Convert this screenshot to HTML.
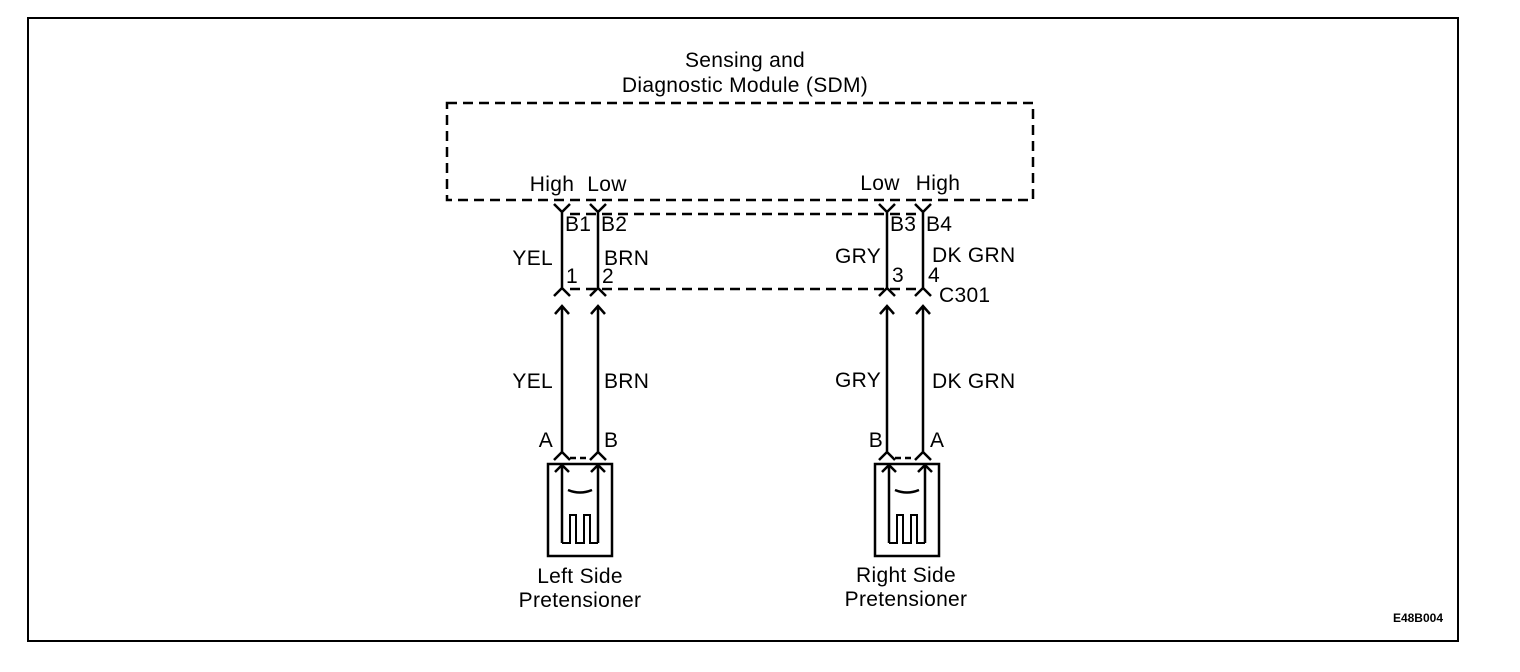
<!DOCTYPE html>
<html><head><style>
html,body{margin:0;padding:0;background:#fff;width:1520px;height:672px;overflow:hidden}
svg text{font-family:"Liberation Sans",Arial,sans-serif;font-size:21px;letter-spacing:0.3px;fill:#000}
</style></head><body>
<svg width="1520" height="672" viewBox="0 0 1520 672" xmlns="http://www.w3.org/2000/svg">
<rect x="28" y="18" width="1430" height="623" fill="none" stroke="#000" stroke-width="2"/>
<text x="745" y="67" text-anchor="middle">Sensing and</text>
<text x="745" y="92" text-anchor="middle">Diagnostic Module (SDM)</text>
<rect x="447" y="103" width="586" height="97" fill="none" stroke="#000" stroke-width="2.5" stroke-dasharray="10,6"/>
<text x="552" y="191" text-anchor="middle">High</text>
<text x="607" y="191" text-anchor="middle">Low</text>
<text x="880" y="190" text-anchor="middle">Low</text>
<text x="938" y="190" text-anchor="middle">High</text>
<g stroke="#000" stroke-width="2.5" fill="none">
<line x1="570" y1="214" x2="920" y2="214" stroke-dasharray="10,6"/>
<line x1="570" y1="289" x2="920" y2="289" stroke-dasharray="10,6"/>
<g id="w">
<path d="M554 204 L562 212 L570 204 M562 212 V288 M554 296 L562 288 L570 296 M555 314 L562 306 L569 314 M562 306 V452 M554 460 L562 452 L570 460"/>
</g>
<use href="#w" x="36"/>
<use href="#w" x="325"/>
<use href="#w" x="361"/>
<line x1="570" y1="458" x2="590" y2="458" stroke-dasharray="6,4"/>
<line x1="895" y1="458" x2="915" y2="458" stroke-dasharray="6,4"/>
<g id="p">
<rect x="548" y="464" width="64" height="92"/>
<path d="M555 472 L562 465 L569 472 M562 465 V543 M591 472 L598 465 L605 472 M598 465 V543"/>
<path d="M568 490 Q580 495 592 490"/>
<path d="M562 543 H570 V515 H576 V543 H584 V515 H590 V543 H598" stroke-width="2"/>
</g>
<use href="#p" x="327"/>
</g>
<text x="565" y="231">B1</text><text x="601" y="231">B2</text>
<text x="890" y="231">B3</text><text x="926" y="231">B4</text>
<text x="553" y="265" text-anchor="end">YEL</text><text x="604" y="265">BRN</text>
<text x="881" y="263" text-anchor="end">GRY</text><text x="932" y="262">DK GRN</text>
<text x="566" y="283">1</text><text x="602" y="283">2</text>
<text x="892" y="282">3</text><text x="928" y="282">4</text>
<text x="939" y="302">C301</text>
<text x="553" y="388" text-anchor="end">YEL</text><text x="604" y="388">BRN</text>
<text x="881" y="387" text-anchor="end">GRY</text><text x="932" y="388">DK GRN</text>
<text x="553" y="447" text-anchor="end">A</text><text x="604" y="447">B</text>
<text x="883" y="447" text-anchor="end">B</text><text x="930" y="447">A</text>
<text x="580" y="583" text-anchor="middle">Left Side</text>
<text x="580" y="607" text-anchor="middle">Pretensioner</text>
<text x="906" y="582" text-anchor="middle">Right Side</text>
<text x="906" y="606" text-anchor="middle">Pretensioner</text>
<text x="1443" y="622" text-anchor="end" style="font-size:12px;font-weight:bold;letter-spacing:0">E48B004</text>
</svg>
</body></html>
